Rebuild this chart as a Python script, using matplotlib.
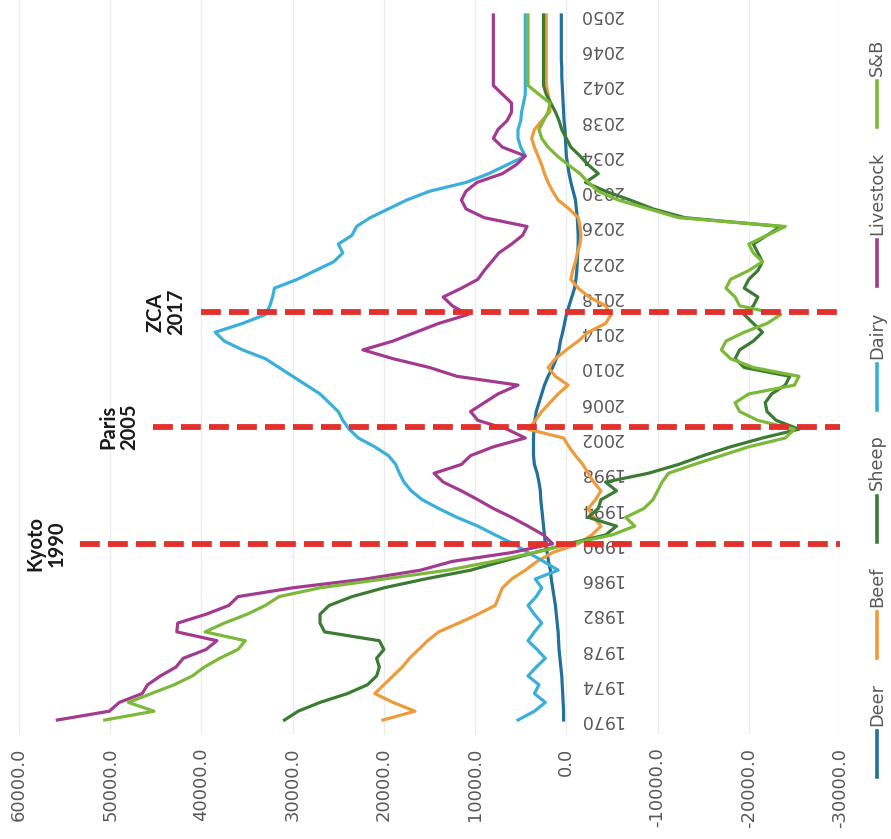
import matplotlib
matplotlib.use("Agg")
import matplotlib.pyplot as plt
from matplotlib.lines import Line2D

YEARS = list(range(1970, 2051))

DEER = [
    300, 300, 350, 400, 450, 500, 600, 700, 800, 850,
    900, 1000, 1100, 1200, 1350, 1500, 1650, 1750, 1950, 2100,
    2300, 2400, 2500, 2600, 2700, 2800, 2850, 3000, 3200, 3500,
    3600, 3600, 3600, 3550, 3450, 3300, 3000, 2700, 2400, 2000,
    1500, 1100, 800, 650, 400, 200, 0, -300, -600, -900,
    -1050, -1150, -1200, -1250, -1300, -1300, -1250, -1200, -1100, -1000,
    -750, -500, -300, -150, 0, 50, 100, 150, 250, 300,
    350, 400, 450, 500, 500, 550, 550, 550, 550, 550,
    550,
]
BEEF = [
    20100, 16600, 19000, 21000, 20000, 19000, 18000, 17200, 16200, 15200,
    14000, 11800, 9700, 7800, 7400, 7000, 6000, 4500, 3200, 1500,
    -1300, -2800, -3800, -3000, -2400, -3200, -3800, -3000, -2400, -1800,
    -1000, -300, 300, 4200, 3400, 2700, 1800, 900, -200, 1200,
    2000, 1200, 0, -1300, -2400, -4300, -4900, -4300, -2500, -1300,
    -500, -700, -1000, -1200, -1500, -1600, -1500, -1300, -300, 900,
    1500, 2000, 2400, 2700, 3100, 3500, 3800, 3500, 2700, 1800,
    1800, 2000, 2200, 2200, 2200, 2200, 2200, 2200, 2200, 2200,
    2200,
]
SHEEP = [
    30900, 29400, 27000, 24000, 21800, 20800, 20500, 20800, 20000, 20500,
    26500, 27000, 27000, 26000, 23500, 20000, 15500, 10500, 7000, 3500,
    -200, -4300, -5500, -2400, -3500, -3800, -5500, -4300, -9000, -12300,
    -15000, -18000, -21500, -25500, -23000, -22000, -21800, -22500, -24000, -24500,
    -19500, -18500, -19000, -20500, -21500, -20500, -19500, -20500, -21000, -19500,
    -20000, -21000, -21500, -21000, -20500, -22000, -23500, -13000, -9500, -7000,
    -4300, -2100, -3500, -2400, -1500, -500, 0, 500, 800, 1200,
    1700, 2200, 2500, 2500, 2500, 2500, 2500, 2500, 2500, 2500,
    2500,
]
DAIRY = [
    5300, 3500, 2300, 3500, 3000, 4200, 3300, 2300, 3200, 4200,
    3500, 2700, 3500, 4200, 3300, 2700, 3400, 900, 2500, 4200,
    5800, 7800, 9700, 12000, 14000, 15800, 17000, 17800, 18300, 18700,
    19500, 21000, 22800, 23800, 24500, 25000, 26000, 27000, 28500, 30000,
    31500, 33000, 35500, 37500, 38500, 35500, 33000, 32500, 32200, 32000,
    29500, 27500, 25500, 24500, 25000, 23500, 23000, 21500, 19500, 17500,
    15000, 11000, 8500, 6500, 4500, 5000, 5300, 5300, 5000, 4900,
    4700, 4500, 4500, 4500, 4500, 4500, 4500, 4500, 4500, 4500,
    4500,
]
LIVESTOCK = [
    55800, 50100, 49000, 46500, 45900, 44500, 42800, 42000, 39500, 38300,
    42700, 42600, 39500, 37000, 36000, 30000, 22000, 16000, 12500, 6000,
    1500, 2500, 4200, 6000, 8000, 9700, 11500, 13500, 14500, 11500,
    10500, 8000, 4500, 6500, 9700, 10500, 9000, 7500, 5300, 12000,
    15000, 19000, 22300, 19000, 16500, 14000, 10800, 12500, 13500, 11500,
    9700, 9000, 8200, 7400, 6000, 4800, 4300, 9000, 11000, 11500,
    11000, 9800, 7000, 5500, 4500, 7000, 8000, 7500, 6500, 6000,
    6000, 7000, 8000, 8000, 8000, 8000, 8000, 8000, 8000, 8000,
    8000,
]
SB = [
    50600, 45200, 48000, 45500, 43000, 41000, 39700, 38000, 36000, 35200,
    39600, 37500, 35000, 33000, 31500, 27000, 20000, 13000, 8000, 3500,
    -500, -5000, -7500, -6500, -8500, -9500, -10000, -10500, -11200, -14000,
    -17000, -20000, -24000, -25000, -21000, -19000, -18500, -20000, -25000, -25500,
    -20500, -18000, -17000, -17500, -19500, -22000, -23500, -19000, -18500, -17500,
    -18000, -20000, -21500, -20500, -20000, -22000, -24000, -12300, -9000, -5700,
    -3500, -2400, -1500, -200, 1000, 2000, 2700, 3000, 2500, 2000,
    1800, 3000, 4200, 4200, 4200, 4200, 4200, 4200, 4200, 4200,
    4200,
]

SERIES_NAMES = ["Deer", "Beef", "Sheep", "Dairy", "Livestock", "S&B"]
SERIES_VALUES = [DEER, BEEF, SHEEP, DAIRY, LIVESTOCK, SB]
SERIES_COLORS = ["#23709b", "#ee9b3b", "#3d7b35", "#3aafd9", "#a23b8f", "#7cb83a"]

VALUE_TICKS = [60000, 50000, 40000, 30000, 20000, 10000, 0, -10000, -20000, -30000]
YEAR_TICKS = list(range(1970, 2051, 4))

# marker lines: label, year where the line sits, value where the line starts
EVENT_LABELS = ["Kyoto\n1990", "Paris\n2005", "ZCA\n2017"]
EVENT_YEARS = [1990, 2003.3, 2016.3]
EVENT_STARTS = [53300, 45300, 40100]

W, H = 891, 839
fig = plt.figure(figsize=(W / 100, H / 100), dpi=100)
ax = fig.add_axes([19 / W, (H - 735) / H, 821 / W, 735 / H])

for name, vals, color in zip(SERIES_NAMES, SERIES_VALUES, SERIES_COLORS):
    ax.plot(vals, YEARS, color=color, linewidth=2.3, zorder=3,
            solid_joinstyle="round", label=name)

for label, yr, start in zip(EVENT_LABELS, EVENT_YEARS, EVENT_STARTS):
    ax.plot([start, VALUE_TICKS[-1]], [yr, yr], color="#e2302c", linewidth=4.2,
            dashes=(3.4, 1.4), dash_capstyle="butt", zorder=5)
    ax.annotate(label, xy=(start, yr), xytext=(-10, 0), textcoords="offset points",
                rotation=90, ha="right", va="center", multialignment="center",
                fontsize=14.5, fontweight="bold", family="Lato",
                color="#1a1a1a", linespacing=1.05)

ax.set_xlim(60000, -30000)
ax.set_ylim(1968.3, 2051.7)
for s in ax.spines.values():
    s.set_visible(False)

ax.set_xticks(VALUE_TICKS)
ax.set_xticklabels([f"{v:.1f}" for v in VALUE_TICKS])
ax.tick_params(axis="x", length=0, pad=9, labelsize=13, labelcolor="#595959",
               labelrotation=90)
ax.grid(axis="x", color="#ebebeb", linewidth=0.9)
ax.set_axisbelow(True)

ax.yaxis.tick_right()
ax.spines["right"].set_position(("data", 0))
ax.set_yticks(YEAR_TICKS)
ax.tick_params(axis="y", length=0, pad=9, labelsize=12.5, labelcolor="#595959")
for t in ax.get_yticklabels():
    t.set_rotation(180)
    t.set_verticalalignment("center")

# legend, laid out bottom to top along the right edge
renderer = fig.canvas.get_renderer()
lx = 877
y = H - 777
for name, color in zip(SERIES_NAMES, SERIES_COLORS):
    fig.add_artist(Line2D([lx / W, lx / W], [y / H, (y + 46) / H],
                          color=color, linewidth=2.6))
    t = fig.text(lx / W, (y + 51) / H, name, rotation=90, ha="center",
                 va="bottom", fontsize=12.8, color="#595959")
    bb = t.get_window_extent(renderer)
    y = bb.y1 + 25

fig.savefig("out.png", dpi=100)
